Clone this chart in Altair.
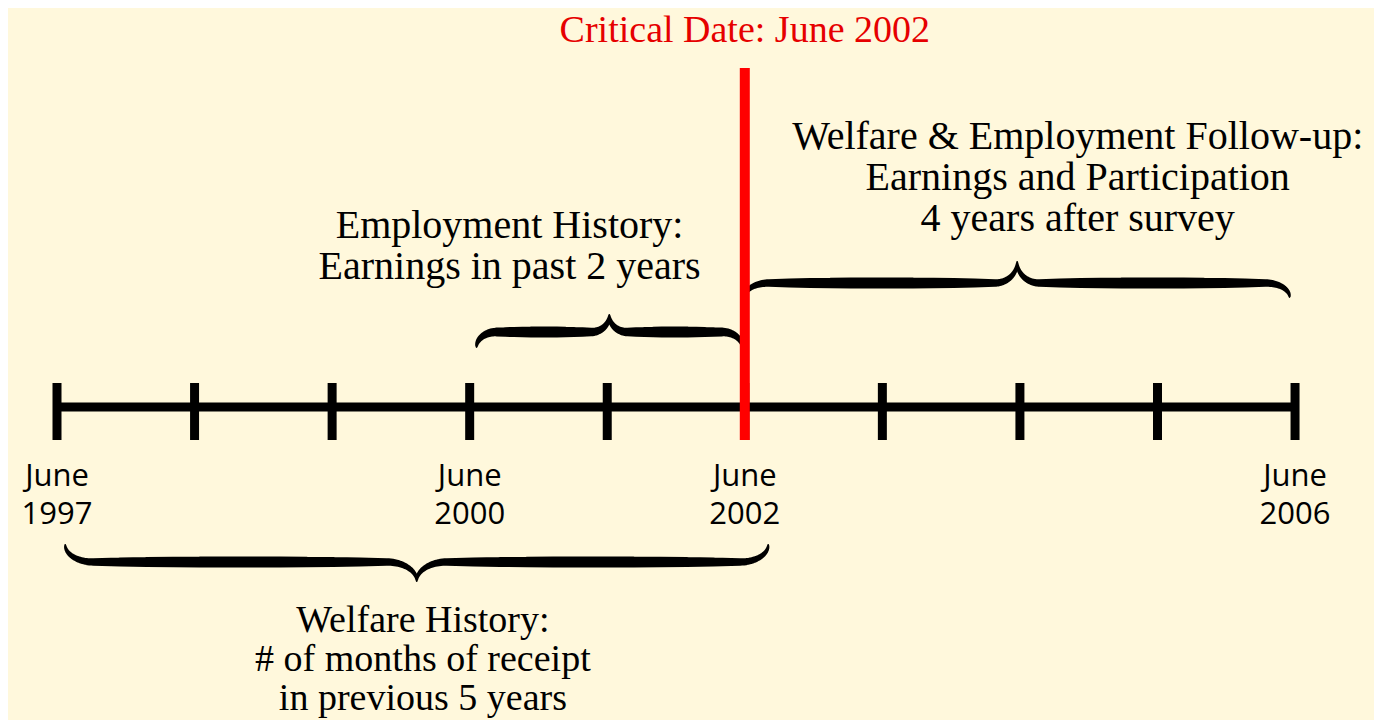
import altair as alt
import numpy as np
import pandas as pd

# ---------------- data ----------------
tick_years = [1997, 1998, 1999, 2000, 2001, 2002, 2003, 2004, 2005, 2006]
label_years = [1997, 2000, 2002, 2006]
label_month = ["June", "June", "June", "June"]
label_year_text = ["1997", "2000", "2002", "2006"]

critical_year = 2002
critical_title = "Critical Date: June 2002"

brace_names = ["Employment History", "Welfare & Employment Follow-up", "Welfare History"]
brace_start = [2000.05, 2002.0, 1997.06]
brace_end = [2001.98, 2005.96, 2002.17]

annotation_lines = [
    ["Employment History:", "Earnings in past 2 years"],
    ["Welfare & Employment Follow-up:", "Earnings and Participation", "4 years after survey"],
    ["Welfare History:", "# of months of receipt", "in previous 5 years"],
]
annotation_center = [2000.29, 2004.42, 1999.66]

# ---------------- layout (page pixels) ----------------
W, H = 1366, 712
PX_PER_YEAR = 137.56
X_MIN = 1997 - 49 / PX_PER_YEAR
X_MAX = 1997 + 1317 / PX_PER_YEAR
LINE_Y = 407
TICK_TOP, TICK_BOTTOM = 383, 440
RED_TOP, RED_BOTTOM = 68, 440
TITLE_Y = 42
LABEL_Y1, LABEL_Y2 = 486, 524
ANN_FIRST_Y = [238, 149, 632]
ANN_LINE_H = [41, 41, 39]
ANN_SIZE = [40, 40, 38]
# brace geometry: end_y, flat_y, tip_y, end curl px, tip px, max width
BRACE_GEOM = [
    (347, 332, 315, 20, 18, 11),
    (297, 283, 262, 24, 22, 11),
    (545, 562, 581, 28, 30, 11),
]

BG = "#FFF8DC"
SERIF = "Liberation Serif"
SANS = "Open Sans"

xs = alt.Scale(domain=[X_MIN, X_MAX], nice=False, zero=False)
ys = alt.Scale(domain=[8, 8 + H], nice=False, zero=False, reverse=True)


def X(f="x"):
    return alt.X(f"{f}:Q", scale=xs, axis=None)


def Y(f="y"):
    return alt.Y(f"{f}:Q", scale=ys, axis=None)


# ---------------- braces ----------------
def brace_rows(name, x0, x1, geom):
    end_y, flat_y, tip_y, a, b, max_w = geom
    xm = (x0 + x1) / 2
    half = (xm - x0) * PX_PER_YEAR
    pts = []
    for phi in np.linspace(0, np.pi / 2, 24):
        pts.append((a * (1 - np.cos(phi)), flat_y + (end_y - flat_y) * (1 - np.sin(phi))))
    for dx in np.linspace(a, half - b, 12)[1:-1]:
        pts.append((dx, flat_y))
    for phi in np.linspace(0, np.pi / 2, 24):
        pts.append((half - b + b * np.sin(phi), flat_y + (tip_y - flat_y) * (1 - np.cos(phi))))
    right = [(2 * half - dx, y) for dx, y in reversed(pts[:-1])]
    full = pts + right
    rows = []
    for i, (dx, y) in enumerate(full):
        u = min(dx, 2 * half - dx) / half
        w = 1.8 + (max_w - 1.8) * np.sin(np.pi * u) ** 0.35
        rows.append({"brace": name, "i": i, "x": x0 + dx / PX_PER_YEAR, "y": y, "w": w})
    return rows


brace_data = []
for n, s, e, g in zip(brace_names, brace_start, brace_end, BRACE_GEOM):
    brace_data += brace_rows(n, s, e, g)
brace_df = pd.DataFrame(brace_data)

braces = alt.Chart(brace_df).mark_trail(color="black").encode(
    x=X(), y=Y(),
    size=alt.Size("w:Q", scale=None, legend=None),
    detail="brace:N",
    order="i:Q",
)

# ---------------- timeline ----------------
line_df = pd.DataFrame({"x": [min(tick_years)], "x2": [max(tick_years)], "y": [LINE_Y]})
main_line = alt.Chart(line_df).mark_rule(color="black", strokeWidth=9).encode(
    x=X(), x2="x2:Q", y=Y()
)

tick_df = pd.DataFrame({"x": tick_years, "y": TICK_TOP, "y2": TICK_BOTTOM})
ticks = alt.Chart(tick_df).mark_rule(color="black", strokeWidth=9).encode(
    x=X(), y=Y(), y2="y2:Q"
)

red_df = pd.DataFrame({"x": [critical_year], "y": [RED_TOP], "y2": [RED_BOTTOM]})
red_line = alt.Chart(red_df).mark_rule(color="#FF0000", strokeWidth=10).encode(
    x=X(), y=Y(), y2="y2:Q"
)

# ---------------- texts ----------------
title_df = pd.DataFrame({"x": [critical_year], "y": [TITLE_Y], "t": [critical_title]})
title = alt.Chart(title_df).mark_text(
    font=SERIF, fontSize=38, color="#E60000", align="center", baseline="alphabetic"
).encode(x=X(), y=Y(), text="t:N")

lab_rows = []
for yr, m, t in zip(label_years, label_month, label_year_text):
    lab_rows.append({"x": yr, "y": LABEL_Y1, "t": m})
    lab_rows.append({"x": yr, "y": LABEL_Y2, "t": t})
labels = alt.Chart(pd.DataFrame(lab_rows)).mark_text(
    font=SANS, fontSize=31, fontWeight=500, color="black", align="center",
    baseline="alphabetic"
).encode(x=X(), y=Y(), text="t:N")

ann_layers = []
for lines, cx, y0, lh, fs in zip(annotation_lines, annotation_center, ANN_FIRST_Y,
                                 ANN_LINE_H, ANN_SIZE):
    rows = [{"x": cx, "y": y0 + k * lh, "t": ln} for k, ln in enumerate(lines)]
    ann_layers.append(
        alt.Chart(pd.DataFrame(rows)).mark_text(
            font=SERIF, fontSize=fs, color="black", align="center", baseline="alphabetic"
        ).encode(x=X(), y=Y(), text="t:N")
    )

chart = alt.layer(
    braces, main_line, ticks, red_line, title, labels, *ann_layers
).properties(
    width=W, height=H, autosize=alt.AutoSizeParams(type="none"), padding=0,
    background=BG,
).configure_view(strokeWidth=0)

chart.save("out.html", embed_options={"renderer": "svg", "actions": False})
